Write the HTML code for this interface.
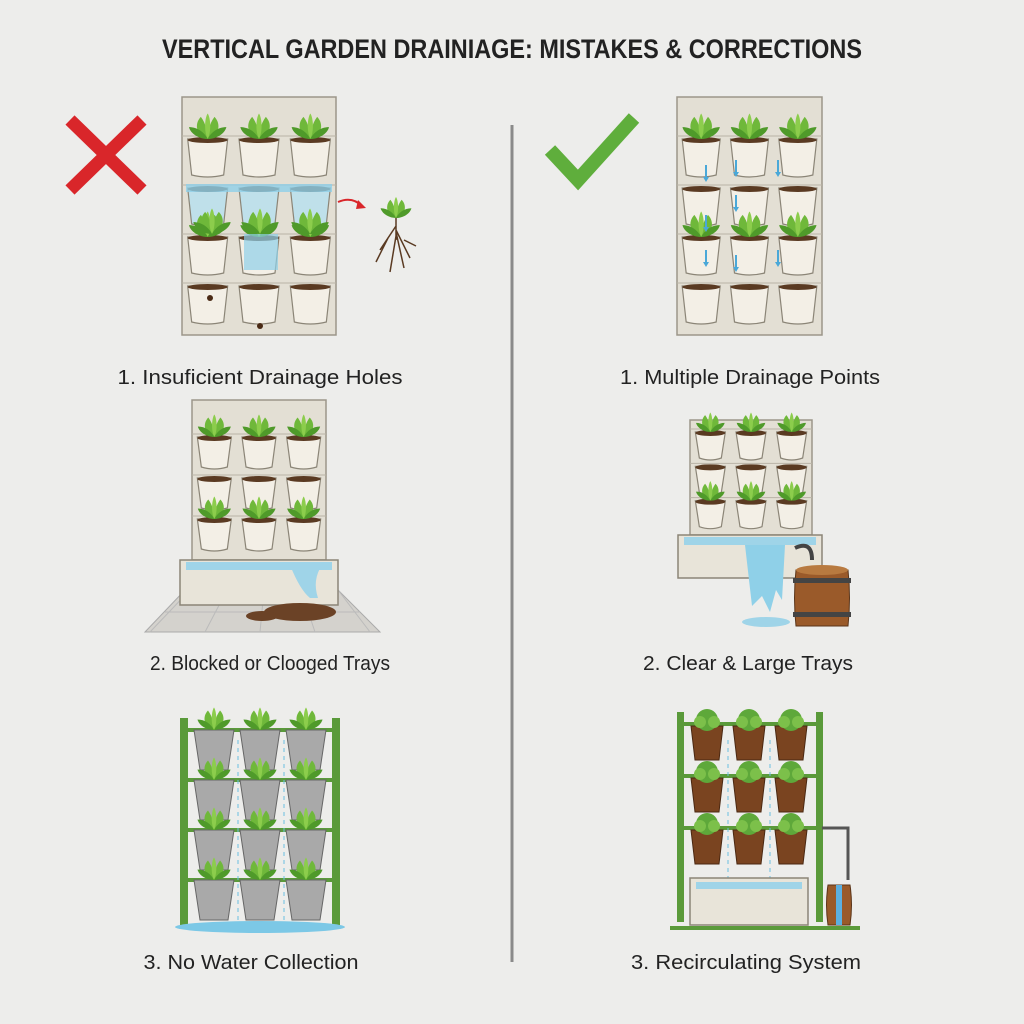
<!DOCTYPE html>
<html><head><meta charset="utf-8"><style>
html,body{margin:0;padding:0;background:#ededeb;}
svg{display:block}
text{font-family:"Liberation Sans",sans-serif;fill:#222}
</style></head><body>
<svg id="s" width="1024" height="1024" viewBox="0 0 1024 1024" xmlns="http://www.w3.org/2000/svg">
<rect width="1024" height="1024" fill="#ededeb"/>
<text x="512" y="58" text-anchor="middle" font-size="27" font-weight="bold" textLength="700" lengthAdjust="spacingAndGlyphs" fill="#1a1a1a">VERTICAL GARDEN DRAINIAGE: MISTAKES &amp; CORRECTIONS</text>
<line x1="512" y1="125" x2="512" y2="962" stroke="#8a8a8a" stroke-width="3"/>
<path d="M70 120 L142 190 M142 120 L70 190" stroke="#d9262a" stroke-width="13"/>
<path d="M550 150 L578 180 L634 118" stroke="#5fae3c" stroke-width="14" fill="none"/>
<g id="g"></g>
<g font-size="20">
<text x="260" y="384" text-anchor="middle" textLength="285" lengthAdjust="spacingAndGlyphs">1. Insuficient Drainage Holes</text>
<text x="750" y="384" text-anchor="middle" textLength="260" lengthAdjust="spacingAndGlyphs">1. Multiple Drainage Points</text>
<text x="270" y="670" text-anchor="middle" textLength="240" lengthAdjust="spacingAndGlyphs">2. Blocked or Clooged Trays</text>
<text x="748" y="670" text-anchor="middle" textLength="210" lengthAdjust="spacingAndGlyphs">2. Clear &amp; Large Trays</text>
<text x="251" y="969" text-anchor="middle" textLength="215" lengthAdjust="spacingAndGlyphs">3. No Water Collection</text>
<text x="746" y="969" text-anchor="middle" textLength="230" lengthAdjust="spacingAndGlyphs">3. Recirculating System</text>
</g>
</svg>
<script>
var g=document.getElementById('g'),h='';
function plant(x,y,s){s=s||1;return `<g transform="translate(${x},${y}) scale(${s})"><path d="M0 0 C-14 -4 -16 -18 -8 -26 C-2 -18 0 -8 0 0Z" fill="#6fb83a"/><path d="M0 0 C14 -4 16 -18 8 -26 C2 -18 0 -8 0 0Z" fill="#6fb83a"/><path d="M0 0 C-5 -10 -3 -26 0 -30 C3 -26 5 -10 0 0Z" fill="#8ccd4c"/><path d="M0 0 C-10 0 -20 -6 -22 -14 C-12 -14 -4 -8 0 0Z" fill="#4f9a2a"/><path d="M0 0 C10 0 20 -6 22 -14 C12 -14 4 -8 0 0Z" fill="#4f9a2a"/></g>`;}
function pot(x,y,w,hh,c,st){c=c||'#f3efe6';st=st||'#8b8577';return `<path d="M${x-w/2} ${y} L${x+w/2} ${y} L${x+w/2-4} ${y+hh} Q${x} ${y+hh+4} ${x-w/2+4} ${y+hh}Z" fill="${c}" stroke="${st}" stroke-width="1.2"/><ellipse cx="${x}" cy="${y+1}" rx="${w/2}" ry="3" fill="#5a3a22"/>`;}
function wall(x,y,w,hh,cols,rows,pw,ph,plantRows,opts){
 opts=opts||{};
 var off=opts.off||40, step=(hh-off)/rows;
 h+=`<rect x="${x}" y="${y}" width="${w}" height="${hh}" fill="#e3dfd4" stroke="#9c968a" stroke-width="1.5"/>`;
 for(var r=0;r<rows;r++){
  var yy=y+off+r*step;
  h+=`<line x1="${x}" y1="${yy-3}" x2="${x+w}" y2="${yy-3}" stroke="#b9b3a6"/>`;
  for(var c=0;c<cols;c++){
   var xx=x+w*(c+0.5)/cols;
   h+=pot(xx,yy,pw,ph,opts.blue&&opts.blue.indexOf(r)>=0?'#bfe0ea':null);
   if(plantRows.indexOf(r)>=0) h+=plant(xx,yy,opts.ps||0.85);
  }
 }
}
wall(182,97,154,238,3,4,40,36,[0,2],{blue:[1],off:42});
h+=`<rect x="186" y="184" width="146" height="8" fill="#8fd0e8" opacity=".8"/><rect x="244" y="234" width="34" height="36" fill="#8fd0e8" opacity=".7"/>`;
h+=plant(212,234,0.85)+plant(260,234,0.85)+plant(310,234,0.85);
h+=`<circle cx="210" cy="298" r="3" fill="#4a2a15"/><circle cx="260" cy="326" r="3" fill="#4a2a15"/>`;
h+=`<path d="M338 202 Q352 196 362 206" stroke="#d9262a" stroke-width="2" fill="none"/><path d="M358 200 L366 208 L356 209Z" fill="#d9262a"/>`;
h+=plant(396,218,0.7)+`<path d="M396 218 L396 240 M396 226 L380 250 M396 230 L410 258 M396 236 L390 272 M396 232 L404 268 M388 238 L376 262 M404 240 L416 246" stroke="#5a3a22" stroke-width="1.5" fill="none"/>`;
wall(677,97,145,238,3,4,38,36,[0,2],{off:42});
var bl=[[706,165],[736,160],[778,160],[706,215],[736,195],[778,250],[706,250],[736,255]];
bl.forEach(function(p){h+=`<line x1="${p[0]}" y1="${p[1]}" x2="${p[0]}" y2="${p[1]+14}" stroke="#4aa8d8" stroke-width="2"/><path d="M${p[0]-3} ${p[1]+12} L${p[0]} ${p[1]+17} L${p[0]+3} ${p[1]+12}Z" fill="#4aa8d8"/>`;});
h+=`<path d="M145 632 L185 590 L338 590 L380 632Z" fill="#d4d2cd" stroke="#aaa"/>`;
for(var i=0;i<5;i++)h+=`<line x1="${150+i*55}" y1="632" x2="${190+i*37}" y2="590" stroke="#bbb"/>`;
h+=`<line x1="165" y1="612" x2="360" y2="612" stroke="#bbb"/>`;
wall(192,400,134,160,3,3,34,30,[0,2],{off:37,ps:0.75});
h+=`<rect x="180" y="560" width="158" height="45" fill="#e8e4d9" stroke="#8b8577" stroke-width="1.5"/><rect x="186" y="562" width="146" height="8" fill="#9fd4e8"/><path d="M290 565 Q300 590 310 598 L318 598 Q312 580 322 565Z" fill="#9fd4e8"/><ellipse cx="300" cy="612" rx="36" ry="9" fill="#6b4226"/><ellipse cx="262" cy="616" rx="16" ry="5" fill="#6b4226"/>`;
wall(690,420,122,115,3,3,30,26,[0,2],{off:12,ps:0.65});
h+=`<rect x="678" y="535" width="144" height="43" fill="#e8e4d9" stroke="#8b8577" stroke-width="1.5"/><rect x="684" y="537" width="132" height="8" fill="#9fd4e8"/><path d="M745 545 L785 545 L782 600 L776 590 L770 612 L762 596 L752 606Z" fill="#8fd0e8"/><ellipse cx="766" cy="622" rx="24" ry="5" fill="#9fd4e8"/>`;
h+=`<path d="M796 570 Q793 598 796 626 L848 626 Q851 598 848 570Z" fill="#9a5a2a" stroke="#5a3418"/><rect x="793" y="578" width="58" height="5" fill="#444"/><rect x="793" y="612" width="58" height="5" fill="#444"/><ellipse cx="822" cy="570" rx="26" ry="5" fill="#b87a40"/><path d="M795 548 Q812 540 812 560" stroke="#444" stroke-width="4" fill="none"/>`;
h+=`<rect x="180" y="718" width="8" height="210" fill="#5a9a3a"/><rect x="332" y="718" width="8" height="210" fill="#5a9a3a"/>`;
for(var r=0;r<4;r++){var yy=728+r*50;h+=`<rect x="180" y="${yy}" width="160" height="4" fill="#5a9a3a"/>`;
 [214,260,306].forEach(function(x){h+=`<path d="M${x-20} ${yy+2} L${x+20} ${yy+2} L${x+14} ${yy+42} L${x-14} ${yy+42}Z" fill="#a9a9a9" stroke="#666"/>`+plant(x,yy+2,0.75);});}
h+=`<line x1="238" y1="740" x2="238" y2="920" stroke="#6cc0e0" stroke-dasharray="4 4"/><line x1="284" y1="740" x2="284" y2="920" stroke="#6cc0e0" stroke-dasharray="4 4"/><ellipse cx="260" cy="927" rx="85" ry="6" fill="#7cc8e6"/>`;
h+=`<rect x="677" y="712" width="7" height="210" fill="#5a9a3a"/><rect x="816" y="712" width="7" height="210" fill="#5a9a3a"/>`;
for(var r=0;r<3;r++){var yy=722+r*52;h+=`<rect x="677" y="${yy}" width="146" height="4" fill="#5a9a3a"/>`;
 [707,749,791].forEach(function(x){h+=`<path d="M${x-16} ${yy+4} L${x+16} ${yy+4} L${x+12} ${yy+38} L${x-12} ${yy+38}Z" fill="#7a4420" stroke="#4a2812"/>`+`<circle cx="${x}" cy="${yy-2}" r="11" fill="#5ea83a"/><circle cx="${x-7}" cy="${yy}" r="6" fill="#7cc04a"/><circle cx="${x+7}" cy="${yy}" r="6" fill="#7cc04a"/>`;});}
h+=`<line x1="728" y1="740" x2="728" y2="880" stroke="#6cc0e0" stroke-dasharray="4 4"/><line x1="770" y1="740" x2="770" y2="880" stroke="#6cc0e0" stroke-dasharray="4 4"/>`;
h+=`<rect x="690" y="878" width="118" height="47" fill="#e8e4d9" stroke="#8b8577" stroke-width="1.5"/><rect x="696" y="882" width="106" height="7" fill="#9fd4e8"/><path d="M670 928 L860 928" stroke="#5a9a3a" stroke-width="4"/>`;
h+=`<path d="M822 828 L848 828 L848 880" stroke="#555" stroke-width="3" fill="none"/><path d="M828 885 Q825 905 828 925 L850 925 Q853 905 850 885Z" fill="#9a5a2a" stroke="#5a3418"/><rect x="836" y="885" width="6" height="40" fill="#5cb0e0"/>`;
g.innerHTML=h;
</script>
</body></html>
